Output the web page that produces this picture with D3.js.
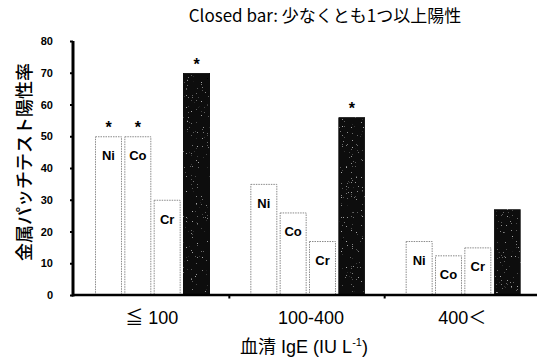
<!DOCTYPE html>
<html>
<head>
<meta charset="utf-8">
<script src="https://cdn.jsdelivr.net/npm/d3@7"></script>
<style>
  html, body { margin: 0; padding: 0; background: #fff; }
  svg { display: block; }
</style>
</head>
<body>
<svg id="chart" width="538" height="361"></svg>
<script>
// Serum IgE groups and the metals tested
const categories = ["≦ 100", "100-400", "400＜"];
const metals = ["Ni", "Co", "Cr", "Any"];
const metalLabels = ["Ni", "Co", "Cr", ""];

// Positive patch test rate (%) per group
const niValues  = [50, 35, 17];
const coValues  = [50, 26, 12.5];
const crValues  = [30, 17, 15];
const anyValues = [70, 56, 27];

// Asterisks marking significant differences
const niSig  = [true, false, false];
const coSig  = [true, false, false];
const crSig  = [false, false, false];
const anySig = [true, true, false];

const yTicks = [0, 10, 20, 30, 40, 50, 60, 70, 80];

const seriesValues = [niValues, coValues, crValues, anyValues];
const seriesSig = [niSig, coSig, crSig, anySig];

const rows = [];
categories.forEach((c, gi) => {
  metals.forEach((m, mi) => {
    rows.push({
      group: c, metal: m, label: metalLabels[mi],
      value: seriesValues[mi][gi], sig: seriesSig[mi][gi]
    });
  });
});

const svg = d3.select("#chart");
const jpFont = "'Noto Sans CJK JP', 'Noto Sans', sans-serif";
const latinFont = "'Liberation Sans', Arial, 'Noto Sans CJK JP', sans-serif";

const x = d3.scaleBand().domain(categories).range([74, 540]).padding(0);
const xi = d3.scaleBand().domain(metals).range([21, 136]).paddingInner(0.08).paddingOuter(0);
const y = d3.scaleLinear().domain([0, 80]).range([295, 41]);

// sparse grey specks on the filled bars
const defs = svg.append("defs");
const f = defs.append("filter").attr("id", "grain").attr("x", 0).attr("y", 0).attr("width", 1).attr("height", 1);
f.append("feTurbulence").attr("type", "fractalNoise").attr("baseFrequency", 1.2).attr("numOctaves", 1).attr("seed", 7).attr("result", "n");
f.append("feColorMatrix").attr("in", "n").attr("type", "matrix")
  .attr("values", "0 0 0 0 0.4  0 0 0 0 0.4  0 0 0 0 0.4  14 0 0 0 -9.6").attr("result", "dots");
f.append("feComposite").attr("in", "dots").attr("in2", "SourceGraphic").attr("operator", "in").attr("result", "d2");
f.append("feMerge").selectAll("feMergeNode").data(["SourceGraphic", "d2"]).join("feMergeNode").attr("in", d => d);

// bars
const bars = svg.append("g");
bars.selectAll("rect").data(rows).join("rect")
  .attr("x", d => x(d.group) + xi(d.metal) + 0.5)
  .attr("y", d => y(d.value) + 0.5)
  .attr("width", xi.bandwidth() - 1)
  .attr("height", d => y(0) - y(d.value) - 0.5)
  .attr("fill", d => d.metal === "Any" ? "#111" : "#fff")
  .attr("stroke", d => d.metal === "Any" ? "#111" : "#8a8a8a")
  .attr("stroke-width", 1)
  .attr("stroke-dasharray", d => d.metal === "Any" ? null : "1.5,1")
  .attr("filter", d => d.metal === "Any" ? "url(#grain)" : null);

// metal names inside the open bars
bars.selectAll("text.metal").data(rows.filter(d => d.label)).join("text")
  .attr("class", "metal")
  .attr("x", d => x(d.group) + xi(d.metal) + xi.bandwidth() / 2)
  .attr("y", d => y(d.value) + 24)
  .attr("text-anchor", "middle")
  .attr("font-family", latinFont)
  .attr("font-weight", "bold")
  .attr("font-size", 13)
  .text(d => d.label);

// significance asterisks
bars.selectAll("text.sig").data(rows.filter(d => d.sig)).join("text")
  .attr("class", "sig")
  .attr("x", d => x(d.group) + xi(d.metal) + xi.bandwidth() / 2)
  .attr("y", d => y(d.value) - 3)
  .attr("text-anchor", "middle")
  .attr("font-family", latinFont)
  .attr("font-weight", "bold")
  .attr("font-size", 16)
  .text("*");

// y axis
const yAxis = svg.append("g").attr("transform", "translate(73,0)")
  .call(d3.axisLeft(y).tickValues(yTicks).tickSize(3).tickPadding(17).tickFormat(d3.format("d")));
yAxis.select(".domain").attr("stroke", "#000").attr("stroke-width", 3)
  .attr("d", `M0,${y(80)}V${y(0) + 1.5}`);
yAxis.selectAll(".tick line").attr("stroke", "#000").attr("stroke-width", 2);
yAxis.selectAll(".tick text").attr("font-family", latinFont).attr("font-weight", "bold")
  .attr("font-size", 11).attr("fill", "#000");

// x axis
const xAxis = svg.append("g").attr("transform", `translate(0,${y(0)})`);
xAxis.append("line").attr("x1", 72).attr("x2", 537).attr("y1", 0).attr("y2", 0)
  .attr("stroke", "#000").attr("stroke-width", 2.5);
xAxis.selectAll("line.tk").data(categories.slice(1)).join("line").attr("class", "tk")
  .attr("x1", d => x(d)).attr("x2", d => x(d)).attr("y1", 0).attr("y2", 3.5)
  .attr("stroke", "#000").attr("stroke-width", 2);
xAxis.selectAll("text").data(categories).join("text")
  .attr("x", d => x(d) + x.bandwidth() / 2 + (d === "100-400" ? 4 : 0))
  .attr("y", 29)
  .attr("text-anchor", "middle")
  .attr("font-family", latinFont)
  .attr("font-size", 18)
  .text(d => d);

// axis titles
svg.append("text")
  .attr("transform", "translate(31,162) rotate(-90)")
  .attr("text-anchor", "middle")
  .attr("font-family", jpFont)
  .attr("font-weight", 500)
  .attr("font-size", 18)
  .text("金属パッチテスト陽性率");

const xt = svg.append("text")
  .attr("x", 304).attr("y", 353)
  .attr("text-anchor", "middle")
  .attr("font-family", latinFont)
  .attr("font-size", 18);
xt.append("tspan").text("血清 IgE (IU L");
xt.append("tspan").attr("font-size", 11).attr("dy", -7).text("-1");
xt.append("tspan").attr("dy", 7).text(")");

// title
svg.append("text")
  .attr("x", 325).attr("y", 22)
  .attr("text-anchor", "middle")
  .attr("font-family", jpFont)
  .attr("font-size", 17)
  .text("Closed bar: 少なくとも1つ以上陽性");
</script>
</body>
</html>
